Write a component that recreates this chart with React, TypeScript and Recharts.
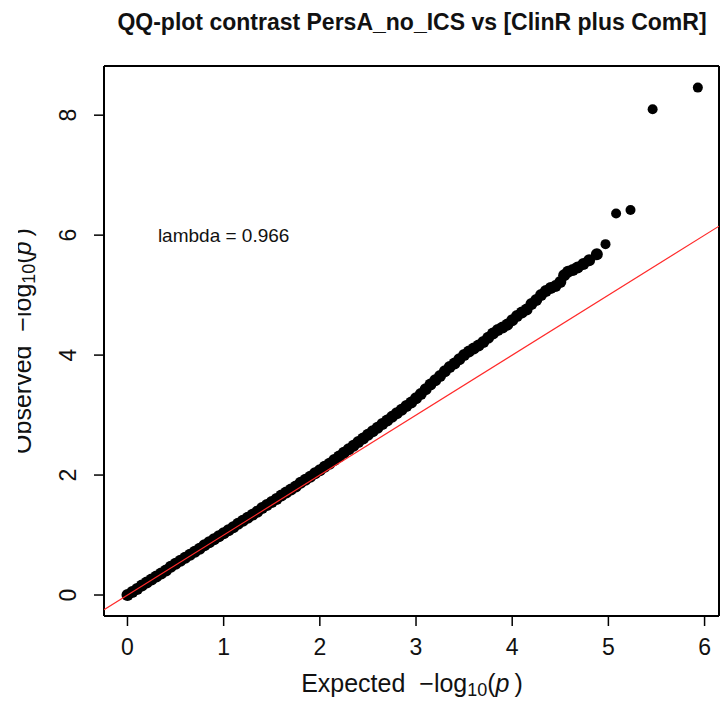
import { ScatterChart, Scatter, XAxis, YAxis, ReferenceDot } from "recharts";

const expectedBand = [
  0.0, 0.05, 0.1, 0.15, 0.2, 0.25, 0.3, 0.35, 0.4, 0.45, 0.5, 0.55, 0.6, 0.65, 0.7, 0.75, 0.8, 0.85, 0.9, 0.95,
  1.0, 1.05, 1.1, 1.15, 1.2, 1.25, 1.3, 1.35, 1.4, 1.45, 1.5, 1.55, 1.6, 1.65, 1.7, 1.75, 1.8, 1.85, 1.9, 1.95,
  2.0, 2.05, 2.1, 2.15, 2.2, 2.25, 2.3, 2.35, 2.4, 2.45, 2.5, 2.55, 2.6, 2.65, 2.7, 2.75, 2.8, 2.85, 2.9, 2.95,
  3.0, 3.05, 3.1, 3.15, 3.2, 3.25, 3.3, 3.35, 3.4, 3.45, 3.5, 3.55, 3.6, 3.65, 3.7, 3.75, 3.8, 3.85, 3.9, 3.95,
  4.0, 4.05, 4.1, 4.15, 4.2, 4.25, 4.3, 4.35, 4.4, 4.45, 4.5, 4.54, 4.58, 4.63, 4.68, 4.74, 4.8, 4.88,
];
const observedBand = [
  0.0, 0.05, 0.1, 0.16, 0.21, 0.26, 0.31, 0.36, 0.41, 0.47, 0.52, 0.57, 0.62, 0.67, 0.72, 0.77, 0.83, 0.88, 0.93, 0.98,
  1.03, 1.08, 1.13, 1.19, 1.24, 1.29, 1.34, 1.39, 1.45, 1.5, 1.55, 1.6, 1.66, 1.71, 1.76, 1.81, 1.87, 1.92, 1.97, 2.03,
  2.08, 2.14, 2.19, 2.25, 2.31, 2.37, 2.43, 2.49, 2.55, 2.61, 2.67, 2.73, 2.79, 2.85, 2.91, 2.97, 3.03, 3.09, 3.15, 3.21,
  3.28, 3.35, 3.43, 3.51, 3.58, 3.65, 3.73, 3.8, 3.86, 3.93, 4.0, 4.06, 4.11, 4.16, 4.22, 4.29, 4.36, 4.42, 4.46, 4.51,
  4.58, 4.65, 4.71, 4.76, 4.85, 4.92, 5.0, 5.07, 5.12, 5.15, 5.22, 5.33, 5.39, 5.42, 5.46, 5.52, 5.58, 5.68,
];
// the few top hits, drawn as separate dots
const expectedTop = [4.97, 5.08, 5.23, 5.46, 5.93];
const observedTop = [5.85, 6.36, 6.42, 8.1, 8.46];

const xTicks = [0, 1, 2, 3, 4, 5, 6];
const yTicks = [0, 2, 4, 6, 8];
const xDomain: [number, number] = [-0.244, 6.15];
const yDomain: [number, number] = [-0.35, 8.82];
const lambdaText = "lambda = 0.966";
const title = "QQ-plot contrast PersA_no_ICS vs [ClinR plus ComR]";

const bandPoints = expectedBand.map((x, i) => ({ x, y: observedBand[i] }));
const topPoints = expectedTop.map((x, i) => ({ x, y: observedTop[i] }));
// y = x identity line across the plot
const identity = xDomain.map((v) => ({ x: v, y: v }));

const FONT = "'Liberation Sans', Arial, Helvetica, sans-serif";

const BandDot = (props: any) => <circle cx={props.cx} cy={props.cy} r={6} fill="#000" />;
const TopDot = (props: any) => <circle cx={props.cx} cy={props.cy} r={5} fill="#000" />;

const XTick = (props: any) => (
  <text x={props.x} y={655} textAnchor="middle" fontSize={23} fill="#111" fontFamily={FONT}>
    {props.payload.value}
  </text>
);

const YTick = (props: any) => (
  <text
    x={76}
    y={props.y}
    transform={`rotate(-90 76 ${props.y})`}
    textAnchor="middle"
    fontSize={23}
    fill="#111"
    fontFamily={FONT}
  >
    {props.payload.value}
  </text>
);

const XTitle = () => (
  <text x={412} y={692} textAnchor="middle" fontSize={25} fill="#111" fontFamily={FONT}>
    Expected {"\u00a0\u2212"}log
    <tspan fontSize={18} dy={4}>10</tspan>
    <tspan dy={-4}>(</tspan>
    <tspan fontStyle="italic">p</tspan>
    <tspan>{"\u2009"})</tspan>
  </text>
);

const YTitle = () => (
  <g>
    <defs>
      <clipPath id="ylab-clip">
        <rect x={18} y={0} width={100} height={702} />
      </clipPath>
    </defs>
    <g clipPath="url(#ylab-clip)">
      <text
        x={31}
        y={341}
        transform="rotate(-90 31 341)"
        textAnchor="middle"
        fontSize={25}
        fill="#111"
        fontFamily={FONT}
      >
        Observed {"\u00a0\u2212"}log
        <tspan fontSize={18} dy={4}>10</tspan>
        <tspan dy={-4}>(</tspan>
        <tspan fontStyle="italic">p</tspan>
        <tspan>{"\u2009"})</tspan>
      </text>
    </g>
  </g>
);

export default function App() {
  return (
    <div style={{ position: "absolute", left: 0, top: 0, width: 721, height: 702, background: "#fff" }}>
      <svg width={721} height={40} style={{ position: "absolute", left: 0, top: 0 }}>
        <text x={412} y={30} textAnchor="middle" fontSize={23} fontWeight="bold" fill="#111" fontFamily={FONT}>
          {title}
        </text>
      </svg>
      <ScatterChart width={721} height={702} margin={{ top: 65, right: 1, bottom: 0, left: 0 }}>
        <XAxis
          xAxisId="b"
          type="number"
          dataKey="x"
          domain={xDomain}
          ticks={xTicks}
          interval={0}
          allowDataOverflow
          height={86}
          tickSize={10}
          tickLine={{ stroke: "#000", strokeWidth: 1.5 }}
          axisLine={{ stroke: "#000", strokeWidth: 2 }}
          tick={XTick}
          label={{ content: XTitle }}
        />
        <XAxis
          xAxisId="t"
          orientation="top"
          type="number"
          dataKey="x"
          domain={xDomain}
          allowDataOverflow
          height={1}
          tick={false}
          tickLine={false}
          axisLine={{ stroke: "#000", strokeWidth: 2 }}
        />
        <YAxis
          yAxisId="l"
          type="number"
          dataKey="y"
          domain={yDomain}
          ticks={yTicks}
          interval={0}
          allowDataOverflow
          width={104}
          tickSize={10}
          tickLine={{ stroke: "#000", strokeWidth: 1.5 }}
          axisLine={{ stroke: "#000", strokeWidth: 2 }}
          tick={YTick}
          label={{ content: YTitle }}
        />
        <YAxis
          yAxisId="r"
          orientation="right"
          type="number"
          dataKey="y"
          domain={yDomain}
          allowDataOverflow
          width={1}
          tick={false}
          tickLine={false}
          axisLine={{ stroke: "#000", strokeWidth: 2 }}
        />
        <Scatter data={bandPoints} xAxisId="b" yAxisId="l" shape={BandDot} isAnimationActive={false} />
        <Scatter data={topPoints} xAxisId="b" yAxisId="l" shape={TopDot} isAnimationActive={false} />
        <Scatter
          data={identity}
          xAxisId="b"
          yAxisId="l"
          line={{ stroke: "#ff2a2a", strokeWidth: 1.2 }}
          shape={() => <g />}
          isAnimationActive={false}
        />
        <ReferenceDot
          xAxisId="b"
          yAxisId="l"
          x={1}
          y={6}
          r={0}
          fill="none"
          stroke="none"
          label={{ value: lambdaText, position: "center", fontSize: 19, fill: "#111", fontFamily: FONT }}
        />
      </ScatterChart>
    </div>
  );
}
